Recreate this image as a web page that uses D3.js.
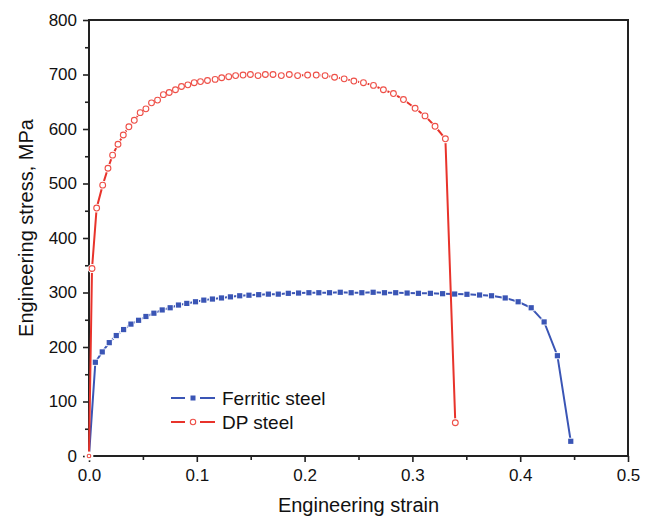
<!DOCTYPE html>
<html>
<head>
<meta charset="utf-8">
<script src="https://cdn.jsdelivr.net/npm/d3@7"></script>
<style>
  body { margin: 0; background: #fff; }
  svg { font-family: "Liberation Sans", Arial, sans-serif; }
</style>
</head>
<body>
<main></main>
<script>
const width = 650;
const height = 519;
const margin = {top: 20, right: 22, bottom: 63, left: 89};

// Ferritic steel (strain, MPa)
const ferriticStrain = [0, 0.0059, 0.0123, 0.0188, 0.0253, 0.0321, 0.0389, 0.046, 0.0528, 0.0602,
    0.0679, 0.0753, 0.083, 0.0907, 0.0988, 0.1065, 0.1145, 0.1229, 0.1312, 0.1398,
    0.1484, 0.1574, 0.1664, 0.1756, 0.1849, 0.1944, 0.204, 0.2132, 0.2231, 0.2331,
    0.2432, 0.2531, 0.2636, 0.2741, 0.2845, 0.2951, 0.3056, 0.3167, 0.328, 0.3392,
    0.3506, 0.3623, 0.3734, 0.3861, 0.3981, 0.4102, 0.4222, 0.4345, 0.4469];
const ferriticStress = [0, 172, 191, 208, 221, 232, 242, 249, 256, 262,
    268, 272, 277, 280, 283, 286, 288, 290, 292, 294,
    295, 296, 297, 297, 298.5, 299, 299.6, 299.6, 299.6, 300.4,
    299.6, 299.6, 300.4, 299.6, 299.6, 299, 298.5, 298.5, 297.8, 297.2,
    296.7, 295.4, 294, 290, 283, 272, 246, 184, 27];

// DP steel (strain, MPa)
const dpStrain = [0, 0.0028, 0.0071, 0.0127, 0.0176, 0.0219, 0.0269, 0.0318, 0.037, 0.042,
    0.0475, 0.0528, 0.058, 0.0636, 0.069, 0.0744, 0.0802, 0.0858, 0.0917, 0.0976,
    0.1034, 0.1099, 0.117, 0.1231, 0.1296, 0.136, 0.1429, 0.1497, 0.1568, 0.1636,
    0.1707, 0.1784, 0.1858, 0.1935, 0.2028, 0.2108, 0.219, 0.2278, 0.2367, 0.2457,
    0.2546, 0.2639, 0.2731, 0.2824, 0.2917, 0.3025, 0.3117, 0.321, 0.3306, 0.3398];
const dpStress = [0, 344, 455, 497, 528, 552, 572, 589, 604, 616,
    630, 637, 648, 653, 663, 667, 672, 678, 681, 685,
    687, 689, 691, 694, 696, 698, 699, 700, 698, 700,
    700, 698, 700, 698, 699, 699, 698, 695, 692, 688,
    685, 680, 672, 665, 654, 638, 624, 605, 582, 61];

const xTicks = [0, 0.1, 0.2, 0.3, 0.4, 0.5];
const xTickLabels = ["0.0", "0.1", "0.2", "0.3", "0.4", "0.5"];
const xMinor = [0.05, 0.15, 0.25, 0.35, 0.45];
const yTicks = [0, 100, 200, 300, 400, 500, 600, 700, 800];
const yMinor = [50, 150, 250, 350, 450, 550, 650, 750];

const seriesNames = ["Ferritic steel", "DP steel"];
const blue = "#3a55b5";
const red = "#e8332b";

const svg = d3.select("main")
    .append("svg")
        .attr("width", width)
        .attr("height", height);

const x = d3.scaleLinear()
    .domain([0, 0.5])
    .range([margin.left, width - margin.right]);
const y = d3.scaleLinear()
    .domain([0, 800])
    .range([height - margin.bottom, margin.top]);

// axes
svg.append("g")
    .attr("transform", `translate(0, ${y(0)})`)
    .call(d3.axisBottom(x).tickValues(xTicks).tickSize(6).tickPadding(7)
        .tickFormat((d, i) => xTickLabels[i]));
svg.append("g")
    .attr("transform", `translate(0, ${y(0)})`)
    .call(d3.axisBottom(x).tickValues(xMinor).tickSize(4).tickFormat(""));

svg.append("g")
    .attr("transform", `translate(${x(0)}, 0)`)
    .call(d3.axisLeft(y).tickValues(yTicks).tickSize(6).tickPadding(6));
svg.append("g")
    .attr("transform", `translate(${x(0)}, 0)`)
    .call(d3.axisLeft(y).tickValues(yMinor).tickSize(4).tickFormat(""));

svg.selectAll(".domain").remove();
svg.selectAll(".tick line").attr("stroke", "#222").attr("stroke-width", 1.6);
svg.selectAll(".tick text").attr("fill", "#111").style("font-size", "17px");

// frame
svg.append("rect")
    .attr("x", x(0))
    .attr("y", y(800))
    .attr("width", x(0.5) - x(0))
    .attr("height", y(0) - y(800))
    .attr("fill", "none")
    .attr("stroke", "#222")
    .attr("stroke-width", 2);

// axis labels
svg.append("text")
    .attr("x", (x(0) + x(0.5)) / 2)
    .attr("y", 512)
    .attr("text-anchor", "middle")
    .style("font-size", "20px")
    .attr("fill", "#111")
    .text("Engineering strain");

svg.append("text")
    .attr("transform", `translate(33, ${(y(0) + y(800)) / 2 - 10}) rotate(-90)`)
    .attr("text-anchor", "middle")
    .style("font-size", "20px")
    .attr("fill", "#111")
    .text("Engineering stress, MPa");

// data
const ferritic = ferriticStrain.map((s, i) => ({s: s, v: ferriticStress[i]}));
const dp = dpStrain.map((s, i) => ({s: s, v: dpStress[i]}));

const line = d3.line()
    .x(d => x(d.s))
    .y(d => y(d.v));

svg.append("path")
    .datum(ferritic)
    .attr("fill", "none")
    .attr("stroke", blue)
    .attr("stroke-width", 2)
    .attr("d", line);

svg.append("g")
    .selectAll("rect")
    .data(ferritic.slice(1))
    .join("rect")
        .attr("x", d => x(d.s) - 2.6)
        .attr("y", d => y(d.v) - 2.6)
        .attr("width", 5.2)
        .attr("height", 5.2)
        .attr("fill", blue)
        .attr("stroke", "#fff")
        .attr("stroke-width", 1.8)
        .attr("paint-order", "stroke");

svg.append("path")
    .datum(dp)
    .attr("fill", "none")
    .attr("stroke", red)
    .attr("stroke-width", 2)
    .attr("d", line);

const dpMarks = svg.append("g");
dpMarks.selectAll("circle.halo")
    .data(dp)
    .join("circle")
        .attr("class", "halo")
        .attr("cx", d => x(d.s))
        .attr("cy", d => y(d.v))
        .attr("r", 4.4)
        .attr("fill", "#fff");
dpMarks.selectAll("circle.mark")
    .data(dp)
    .join("circle")
        .attr("class", "mark")
        .attr("cx", d => x(d.s))
        .attr("cy", d => y(d.v))
        .attr("r", d => d.s === 0 ? 1.8 : 2.9)
        .attr("fill", "#fff")
        .attr("stroke", "#ee5048")
        .attr("stroke-width", 1.1);

// legend
const legend = svg.append("g").attr("transform", "translate(171, 398)");
[blue, red].forEach((c, i) => {
    const g = legend.append("g").attr("transform", `translate(0, ${i * 24})`);
    g.append("line").attr("x1", 0).attr("x2", 14).attr("stroke", c).attr("stroke-width", 2);
    g.append("line").attr("x1", 29).attr("x2", 44).attr("stroke", c).attr("stroke-width", 2);
    if (i === 0) {
        g.append("rect").attr("x", 19.5).attr("y", -2.5).attr("width", 5).attr("height", 5).attr("fill", c);
    } else {
        g.append("circle").attr("cx", 22).attr("r", 2.7).attr("fill", "#fff")
            .attr("stroke", "#ee5048").attr("stroke-width", 1.1);
    }
    g.append("text")
        .attr("x", 51)
        .attr("y", 7)
        .style("font-size", "19px")
        .attr("fill", "#111")
        .text(seriesNames[i]);
});
</script>
</body>
</html>
